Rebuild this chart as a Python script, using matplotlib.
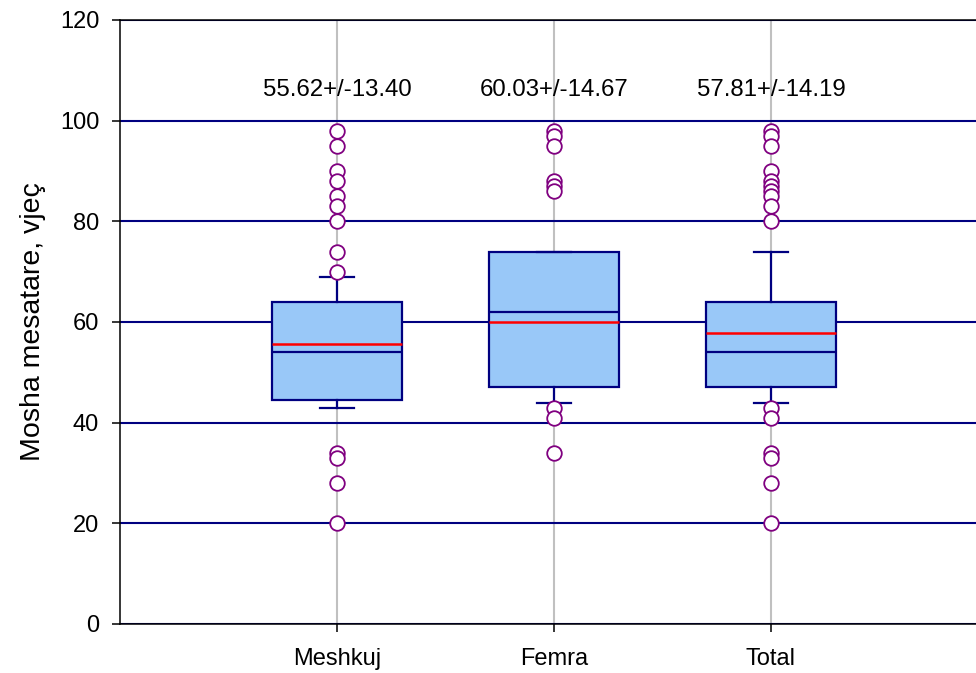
import numpy as np
import matplotlib
matplotlib.use('Agg')
import matplotlib.pyplot as plt

plt.rcParams['font.family'] = ['Liberation Sans', 'DejaVu Sans']

# age statistics per group
labels = ['Meshkuj', 'Femra', 'Total']
q1 = [44.5, 47, 47]
med = [54, 62, 54]
q3 = [64, 74, 64]
whislo = [43, 44, 44]
whishi = [69, 74, 74]
mean = [55.62, 60.03, 57.81]
sd = [13.40, 14.67, 14.19]
fliers_m = [98, 95, 90, 88, 85, 83, 80, 74, 70, 34, 33, 28, 20]
fliers_f = [98, 97, 95, 88, 87, 86, 43, 41, 34]
fliers_t = [98, 97, 95, 90, 88, 87, 86, 85, 83, 80, 43, 41, 34, 33, 28, 20]
fliers = [fliers_m, fliers_f, fliers_t]

stats = []
for i in range(len(labels)):
    stats.append({'label': labels[i], 'q1': q1[i], 'med': med[i], 'q3': q3[i],
                  'whislo': whislo[i], 'whishi': whishi[i], 'mean': mean[i],
                  'fliers': np.array(fliers[i])})

navy = '#000080'
fig = plt.figure(figsize=(9.76, 6.73), dpi=100)
ax = fig.add_axes([120/976, 49/673, 856/976, 604/673])

pos = np.arange(1, len(labels) + 1)
ax.bxp(stats, positions=pos, widths=0.6, capwidths=0.16,
       showmeans=True, meanline=True, patch_artist=True,
       boxprops=dict(facecolor='#99c8f8', edgecolor=navy, linewidth=1.6),
       medianprops=dict(color=navy, linewidth=1.6),
       meanprops=dict(color='red', linestyle='-', linewidth=1.8),
       whiskerprops=dict(color=navy, linewidth=1.6),
       capprops=dict(color=navy, linewidth=1.6),
       flierprops=dict(marker='o', markersize=10.5, markerfacecolor='white',
                       markeredgecolor='purple', markeredgewidth=1.3))

# mean +/- sd above each box
for x, m, s in zip(pos, mean, sd):
    ax.text(x, 106.0, f'{m:.2f}+/-{s:.2f}', ha='center', va='center', fontsize=17.3)

ax.set_ylim(0, 120)
ax.set_xlim(0, 856/217)
ax.set_yticks(np.arange(0, 121, 20))
ax.set_xticks(pos)
ax.set_xticklabels(labels)
ax.set_axisbelow(True)
ax.yaxis.grid(True, color=navy, linewidth=1.5)
ax.xaxis.grid(True, color='#c0c0c0', linewidth=1.5)

for side in ['left', 'bottom', 'top']:
    ax.spines[side].set_linewidth(1.1)
    ax.spines[side].set_color('black')
ax.spines['right'].set_visible(False)
ax.tick_params(axis='both', direction='out', length=6, width=1.1, labelsize=17)
ax.tick_params(axis='x', pad=11)
ax.tick_params(axis='y', pad=9)
ax.set_ylabel('Mosha mesatare, vjeç', fontsize=20.5, labelpad=10)

fig.savefig('out.png', dpi=100)
